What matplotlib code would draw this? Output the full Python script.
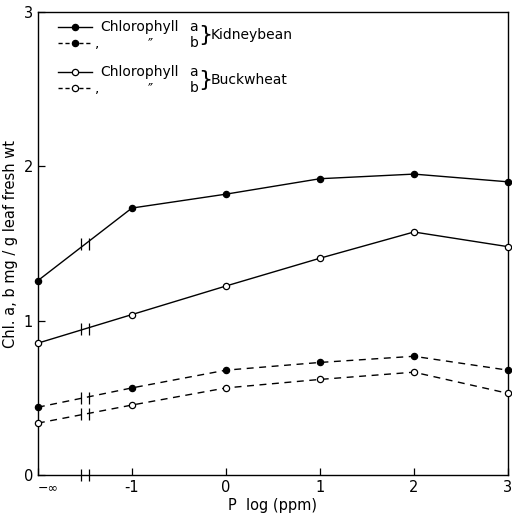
import matplotlib
matplotlib.use("Agg")
import matplotlib.pyplot as plt
import matplotlib.transforms as mtransforms
from matplotlib.lines import Line2D
import numpy as np

# Data
x_pos = [-2, -1, 0, 1, 2, 3]          # -2 stands for -infinity (0 ppm)
x_ticklabels = ["\u2212\u221e", "-1", "0", "1", "2", "3"]
kidney_a = [1.26, 1.73, 1.82, 1.92, 1.95, 1.90]
kidney_b = [0.44, 0.565, 0.68, 0.73, 0.77, 0.68]
buck_a = [0.855, 1.04, 1.225, 1.405, 1.575, 1.48]
buck_b = [0.337, 0.454, 0.565, 0.62, 0.667, 0.53]

plt.rcParams['font.family'] = ['DejaVu Sans']
fig = plt.figure(figsize=(5.12, 5.21), dpi=100)
ax = fig.add_axes([0.074, 0.088, 0.918, 0.889])

series = [
    (kidney_a, '-', 'o', 'black'),
    (buck_a, '-', 'o', 'white'),
    (kidney_b, (0, (5, 4)), 'o', 'black'),
    (buck_b, (0, (5, 4)), 'o', 'white'),
]
for ys, ls, mk, fc in series:
    ax.plot(x_pos, ys, linestyle=ls, color='black', lw=1.0, marker=mk,
            markersize=4.5, markerfacecolor=fc, markeredgecolor='black',
            markeredgewidth=0.9, clip_on=False, zorder=3)
    # break marks on the first segment
    xm = (x_pos[0] + x_pos[1]) / 2
    ym = (ys[0] + ys[1]) / 2
    for dx in (-0.04, 0.04):
        ax.plot([xm + dx], [ym], marker='|', markersize=9, color='black',
                markeredgewidth=0.9, zorder=4)

# break on x axis
xm = (x_pos[0] + x_pos[1]) / 2
for dx in (-0.04, 0.04):
    ax.plot([xm + dx], [0], marker='|', markersize=9, color='black',
            markeredgewidth=0.9, clip_on=False, zorder=4)

ax.set_xlim(-2, 3)
ax.set_ylim(0, 3)
ax.set_xticks(x_pos)
ax.set_xticklabels(x_ticklabels)
ax.set_yticks([0, 1, 2, 3])
ax.set_yticklabels(["0", "1", "2", "3"])
ax.tick_params(direction='in', length=5, width=0.9, labelsize=10.5)
inf_lbl = ax.get_xticklabels()[0]
inf_lbl.set_fontsize(9)
inf_lbl.set_transform(inf_lbl.get_transform() +
                      mtransforms.ScaledTranslation(10 / 100, -1 / 100,
                                                    fig.dpi_scale_trans))
for s in ax.spines.values():
    s.set_linewidth(1.0)
ax.set_xlabel("P  log (ppm)", fontsize=10.5, labelpad=2)
ax.set_ylabel("Chl. a, b mg / g leaf fresh wt", fontsize=10.5, labelpad=4)

# Legend (drawn manually in axes coordinates)
T = ax.transAxes
def ax_x(px):
    return (px - 38) / 470.0
def ax_y(py):
    return (475 - py) / 463.0

fs = 10
rows = [
    (27, '-', 'black', "Chlorophyll", "a"),
    (43, (0, (3, 2)), 'black', ",", "b"),
    (72, '-', 'white', "Chlorophyll", "a"),
    (88, (0, (3, 2)), 'white', ",", "b"),
]
for py, ls, fc, txt, sub in rows:
    ax.add_line(Line2D([ax_x(58), ax_x(92)], [ax_y(py)] * 2, transform=T,
                       linestyle=ls, color='black', lw=1.0))
    ax.add_line(Line2D([ax_x(75)], [ax_y(py)], transform=T, marker='o',
                       markersize=4.5, markerfacecolor=fc,
                       markeredgecolor='black', markeredgewidth=0.9))
    if txt == ",":
        ax.text(ax_x(95), ax_y(py), ",", transform=T, fontsize=fs,
                va='center', ha='left')
        ax.text(ax_x(150), ax_y(py), "\u2033", transform=T, fontsize=fs,
                va='center', ha='center')
    else:
        ax.text(ax_x(100), ax_y(py), txt, transform=T, fontsize=fs,
                va='center', ha='left')
    ax.text(ax_x(194), ax_y(py), sub, transform=T, fontsize=fs,
            va='center', ha='center')

for py, name in [(35, "Kidneybean"), (80, "Buckwheat")]:
    ax.text(ax_x(205), ax_y(py), "}", transform=T, fontsize=16,
            va='center', ha='center')
    ax.text(ax_x(211), ax_y(py), name, transform=T, fontsize=fs,
            va='center', ha='left')

fig.savefig("out.png", dpi=100)
